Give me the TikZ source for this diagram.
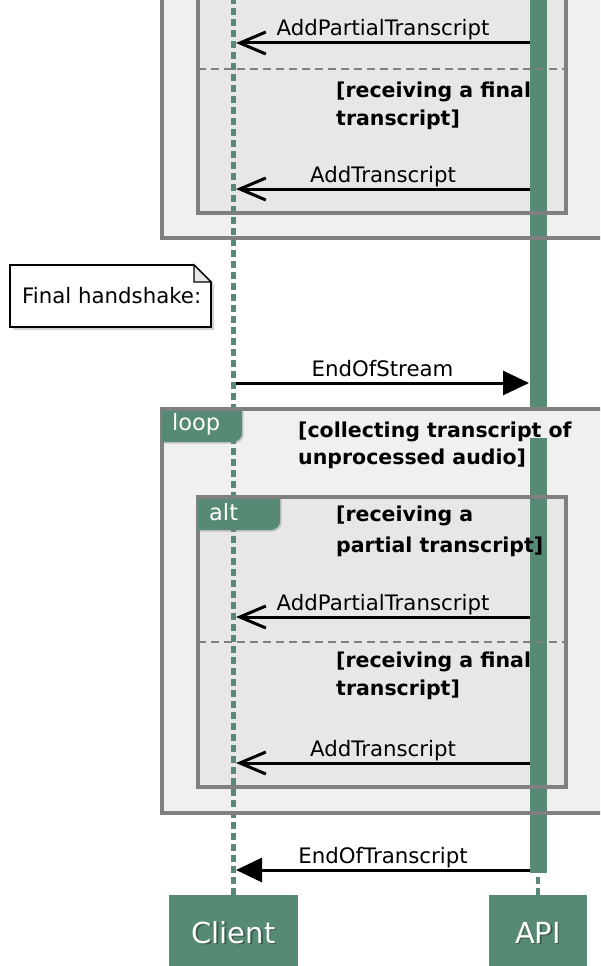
\documentclass[tikz,border=0pt]{standalone}
\usepackage{fontspec}
\setmainfont{DejaVu Sans}
\usetikzlibrary{arrows.meta,shadows}
\definecolor{actorgreen}{RGB}{86,138,116}
\definecolor{framegray}{RGB}{128,128,128}
\definecolor{outerfill}{RGB}{240,240,240}
\definecolor{innerfill}{RGB}{231,231,231}
\definecolor{textshade}{RGB}{40,60,50}
\begin{document}
\begin{tikzpicture}[x=1pt,y=-1pt,
  msgfont/.style={font=\fontsize{21.3}{26}\selectfont},
  lbl/.style={msgfont, inner sep=0pt, anchor=base, yshift=7pt},
  reply/.style={line width=3pt, -{Straight Barb[length=26pt,width=22pt]}},
  call/.style={line width=3pt, -{Triangle[length=26pt,width=24pt]}},
  cond/.style={font=\fontsize{20.5}{26}\selectfont\bfseries, inner sep=0pt, anchor=base west},
  framebox/.style={draw=framegray, line width=3.2pt},
  separator/.style={draw=framegray, line width=2.6pt, dash pattern=on 8pt off 5pt},
  lifeline/.style={draw=actorgreen, line width=4.6pt, dash pattern=on 7pt off 4pt},
  actbar/.style={fill=actorgreen},
  tab/.style={fill=actorgreen, drop shadow={shadow xshift=1.5pt, shadow yshift=-1.5pt, opacity=0.35}},
  tabtext/.style={font=\fontsize{22.5}{26}\selectfont, text=white, inner sep=0pt, anchor=base west},
  actor/.style={fill=actorgreen, text=white, font=\fontsize{29}{32}\selectfont, inner sep=0pt},
  shade/.style={text=textshade, text opacity=0.6, font=\fontsize{29}{32}\selectfont, inner sep=0pt},
  notebox/.style={draw=black, fill=white, line width=1.6pt,
    drop shadow={shadow xshift=3pt, shadow yshift=-3pt, opacity=0.35}},
]
\clip (0,0) rectangle (600,966);

% participants
\node[actor, minimum width=129pt, minimum height=75pt, text opacity=0] (client) at (233.5,932.5) {Client};
\node[actor, minimum width=98pt, minimum height=75pt, text opacity=0] (api) at (538,932.5) {API};
\node[shade] (clientshade) at ([xshift=1.5pt,yshift=-1.5pt]client.center) {Client};
\node[shade] (apishade) at ([xshift=1.5pt,yshift=-1.5pt]api.center) {API};
\node[actor, fill=none] (clientname) at (client.center) {Client};
\node[actor, fill=none] (apiname) at (api.center) {API};

% frame backgrounds
\fill[outerfill] (162,-20) rectangle (620,238);
\fill[innerfill] (198,-20) rectangle (566,213);
\fill[outerfill] (162,409) rectangle (620,813);
\fill[innerfill] (198,497) rectangle (566,787);

% activation bar of the API
\fill[actbar] (530,-10) rectangle (547,409);
\fill[actbar] (530,438) rectangle (547,873);

% lifelines
\draw[lifeline] (client.north) -- (client.north |- 0,-10);
\draw[lifeline] (api.north) -- (538,873);

% upper loop / alt frames
\draw[framebox] (162,-20) -- (162,238) -- (620,238);
\draw[framebox] (198,-20) -- (198,213) -- (566,213) -- (566,-20);
\draw[separator] (198,69) -- (566,69);
\node[cond] (ca1) at (336,97) {[receiving a final};
\node[cond] (ca2) at (336,125) {transcript]};

% lower loop frame
\draw[framebox] (620,409) -- (162,409) -- (162,813) -- (620,813);
\fill[tab] (162,409) -- (242,409) -- (242,435) [rounded corners=3pt] -- (242,437) -- (236,442) [sharp corners] -- (162,442) -- cycle;
\draw[framebox] (162,409) -- (242,409);
\node[tabtext] (looplbl) at (172,430) {loop};
\node[cond] (cl1) at (298,437) {[collecting transcript of};
\node[cond] (cl2) at (298,464) {unprocessed audio]};

% lower alt frame
\draw[framebox] (198,497) rectangle (566,787);
\fill[tab] (198,497) -- (280,497) -- (280,523) [rounded corners=3pt] -- (280,525) -- (274,530) [sharp corners] -- (198,530) -- cycle;
\draw[framebox] (198,497) -- (280,497);
\node[tabtext] (altlbl) at (209,520) {alt};
\node[cond] (cb1) at (336,521) {[receiving a};
\node[cond] (cb2) at (336,552) {partial transcript]};
\draw[separator] (198,642) -- (566,642);
\node[cond] (cc1) at (336,667) {[receiving a final};
\node[cond] (cc2) at (336,695) {transcript]};

% message end points
\coordinate (c1) at (236,43);  \coordinate (a1) at (530,43);
\coordinate (c2) at (236,189); \coordinate (a2) at (530,189);
\coordinate (c3) at (236,383); \coordinate (a3) at (529,383);
\coordinate (c4) at (236,617); \coordinate (a4) at (530,617);
\coordinate (c5) at (236,763); \coordinate (a5) at (530,763);
\coordinate (c6) at (236,870); \coordinate (a6) at (530,870);

% messages
\draw[reply] (a1) -- (c1) node[lbl, midway] (m1) {AddPartialTranscript};
\draw[reply] (a2) -- (c2) node[lbl, midway] (m2) {AddTranscript};
\draw[call]  (c3) -- (a3) node[lbl, midway] (m3) {EndOfStream};
\draw[reply] (a4) -- (c4) node[lbl, midway] (m4) {AddPartialTranscript};
\draw[reply] (a5) -- (c5) node[lbl, midway] (m5) {AddTranscript};
\draw[call]  (a6) -- (c6) node[lbl, midway] (m6) {EndOfTranscript};

% note
\path[notebox] (10,265) -- (194,265) -- (211,282) -- (211,327) -- (10,327) -- cycle;
\draw[line width=1.3pt, fill=innerfill] (194,265) -- (194,282) -- (211,282) -- cycle;
\node[msgfont, inner sep=0pt, anchor=base west] (note) at (22,303) {Final handshake:};
\end{tikzpicture}
\end{document}
